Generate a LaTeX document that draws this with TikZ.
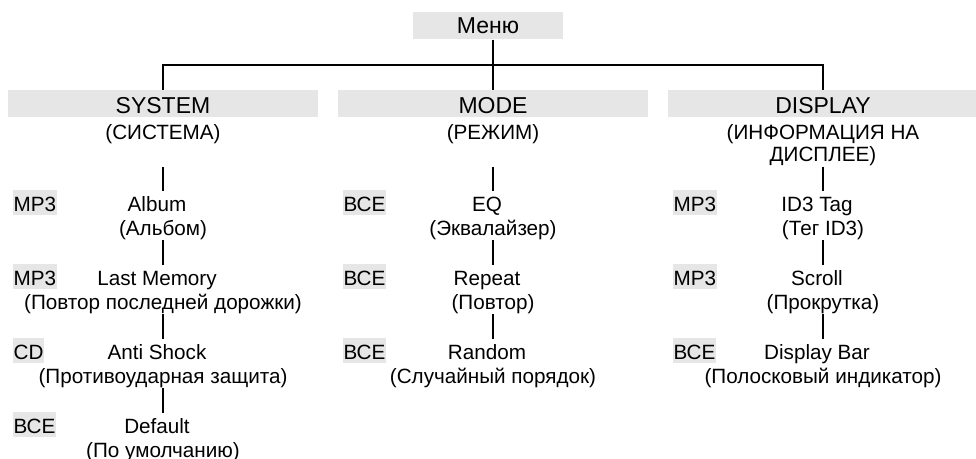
\documentclass[tikz,border=0pt]{standalone}
\usepackage{fontspec}
\setmainfont{Liberation Sans}
\definecolor{tabfill}{HTML}{E6E6E6}
\definecolor{linecolor}{HTML}{000000}
\tikzset{
  menubox/.style={
    fill=tabfill,
    anchor=base,
    inner sep=0pt,
    minimum width=112.5pt,
    text height=16pt,
    text depth=4.5pt,
    font=\fontsize{17.25pt}{20pt}\selectfont
  },
  groupbox/.style={
    fill=tabfill,
    anchor=base,
    inner sep=0pt,
    minimum width=232.5pt,
    text height=17.5pt,
    text depth=2.8pt,
    font=\fontsize{17.25pt}{20pt}\selectfont
  },
  groupnote/.style={
    anchor=base,
    inner sep=0pt,
    align=center,
    text height=11.2pt,
    text depth=20.25pt,
    font=\fontsize{15.5pt}{16.5pt}\selectfont
  },
  groupnotelong/.style={
    groupnote,
    text depth=3.3pt
  },
  itemtitle/.style={
    anchor=base,
    inner sep=0pt,
    text height=11.2pt,
    text depth=3.3pt,
    font=\fontsize{15.5pt}{18pt}\selectfont
  },
  itemnote/.style={itemtitle},
  srcbadge/.style={
    fill=tabfill,
    anchor=base west,
    inner xsep=0.5pt,
    inner ysep=0pt,
    text height=16.3pt,
    text depth=3pt,
    font=\fontsize{15.5pt}{18pt}\selectfont
  },
  treeline/.style={
    draw=linecolor,
    line width=1.8pt
  },
  droptree/.style={
    treeline,
    shorten >=4pt
  }
}
\begin{document}
\begin{tikzpicture}[x=0.75pt, y=-0.75pt]
  \useasboundingbox (0,0) rectangle (976,459);

  % Top level
  \node (menu) [menubox] at (488,33.3) {Меню};
  \coordinate (bar) at (493,65);

  \node (sys)  [groupbox] at (163,113.3) {SYSTEM};
  \node (mode) [groupbox] at (493,113.3) {MODE};
  \node (disp) [groupbox] at (823,113.3) {DISPLAY};

  \node (sysnote)  [groupnote] at (163,140) {(СИСТЕМА)};
  \node (modenote) [groupnote] at (493,140) {(РЕЖИМ)};
  \node (dispnote) [groupnotelong] at (823,162) {(ИНФОРМАЦИЯ НА\\ДИСПЛЕЕ)};

  % SYSTEM items
  \node (a1)  [itemtitle] at (157,211.5) {Album};
  \node (a1n) [itemnote]  at (163,235.5) {(Альбом)};
  \node (a1t) [srcbadge]  at (12.7,211.5) {MP3};

  \node (a2)  [itemtitle] at (157,285.5) {Last Memory};
  \node (a2n) [itemnote]  at (163,309.5) {(Повтор последней дорожки)};
  \node (a2t) [srcbadge]  at (12.7,285.5) {MP3};

  \node (a3)  [itemtitle] at (157,359.5) {Anti Shock};
  \node (a3n) [itemnote]  at (163,383.5) {(Противоударная защита)};
  \node (a3t) [srcbadge]  at (12.7,359.5) {CD};

  \node (a4)  [itemtitle] at (157,433.5) {Default};
  \node (a4n) [itemnote]  at (163,457.5) {(По умолчанию)};
  \node (a4t) [srcbadge]  at (12.7,433.5) {ВСЕ};

  % MODE items
  \node (b1)  [itemtitle] at (487,211.5) {EQ};
  \node (b1n) [itemnote]  at (493,235.5) {(Эквалайзер)};
  \node (b1t) [srcbadge]  at (342.7,211.5) {ВСЕ};

  \node (b2)  [itemtitle] at (487,285.5) {Repeat};
  \node (b2n) [itemnote]  at (493,309.5) {(Повтор)};
  \node (b2t) [srcbadge]  at (342.7,285.5) {ВСЕ};

  \node (b3)  [itemtitle] at (487,359.5) {Random};
  \node (b3n) [itemnote]  at (493,383.5) {(Случайный порядок)};
  \node (b3t) [srcbadge]  at (342.7,359.5) {ВСЕ};

  % DISPLAY items
  \node (c1)  [itemtitle] at (817,211.5) {ID3 Tag};
  \node (c1n) [itemnote]  at (823,235.5) {(Тег ID3)};
  \node (c1t) [srcbadge]  at (672.7,211.5) {MP3};

  \node (c2)  [itemtitle] at (817,285.5) {Scroll};
  \node (c2n) [itemnote]  at (823,309.5) {(Прокрутка)};
  \node (c2t) [srcbadge]  at (672.7,285.5) {MP3};

  \node (c3)  [itemtitle] at (817,359.5) {Display Bar};
  \node (c3n) [itemnote]  at (823,383.5) {(Полосковый индикатор)};
  \node (c3t) [srcbadge]  at (672.7,359.5) {ВСЕ};

  % Connectors
  \draw [treeline] (menu.south -| mode.north) -- (mode.north);
  \draw [treeline] (sys.north) |- (bar) -| (disp.north);

  \draw [droptree] (sysnote.south) -- (sysnote.south |- a1.north);
  \draw [droptree] (a1n.south) -- (a1n.south |- a2.north);
  \draw [droptree] (a2n.south) -- (a2n.south |- a3.north);
  \draw [droptree] (a3n.south) -- (a3n.south |- a4.north);

  \draw [droptree] (modenote.south) -- (modenote.south |- b1.north);
  \draw [droptree] (b1n.south) -- (b1n.south |- b2.north);
  \draw [droptree] (b2n.south) -- (b2n.south |- b3.north);

  \draw [droptree] (dispnote.south) -- (dispnote.south |- c1.north);
  \draw [droptree] (c1n.south) -- (c1n.south |- c2.north);
  \draw [droptree] (c2n.south) -- (c2n.south |- c3.north);

\end{tikzpicture}
\end{document}
